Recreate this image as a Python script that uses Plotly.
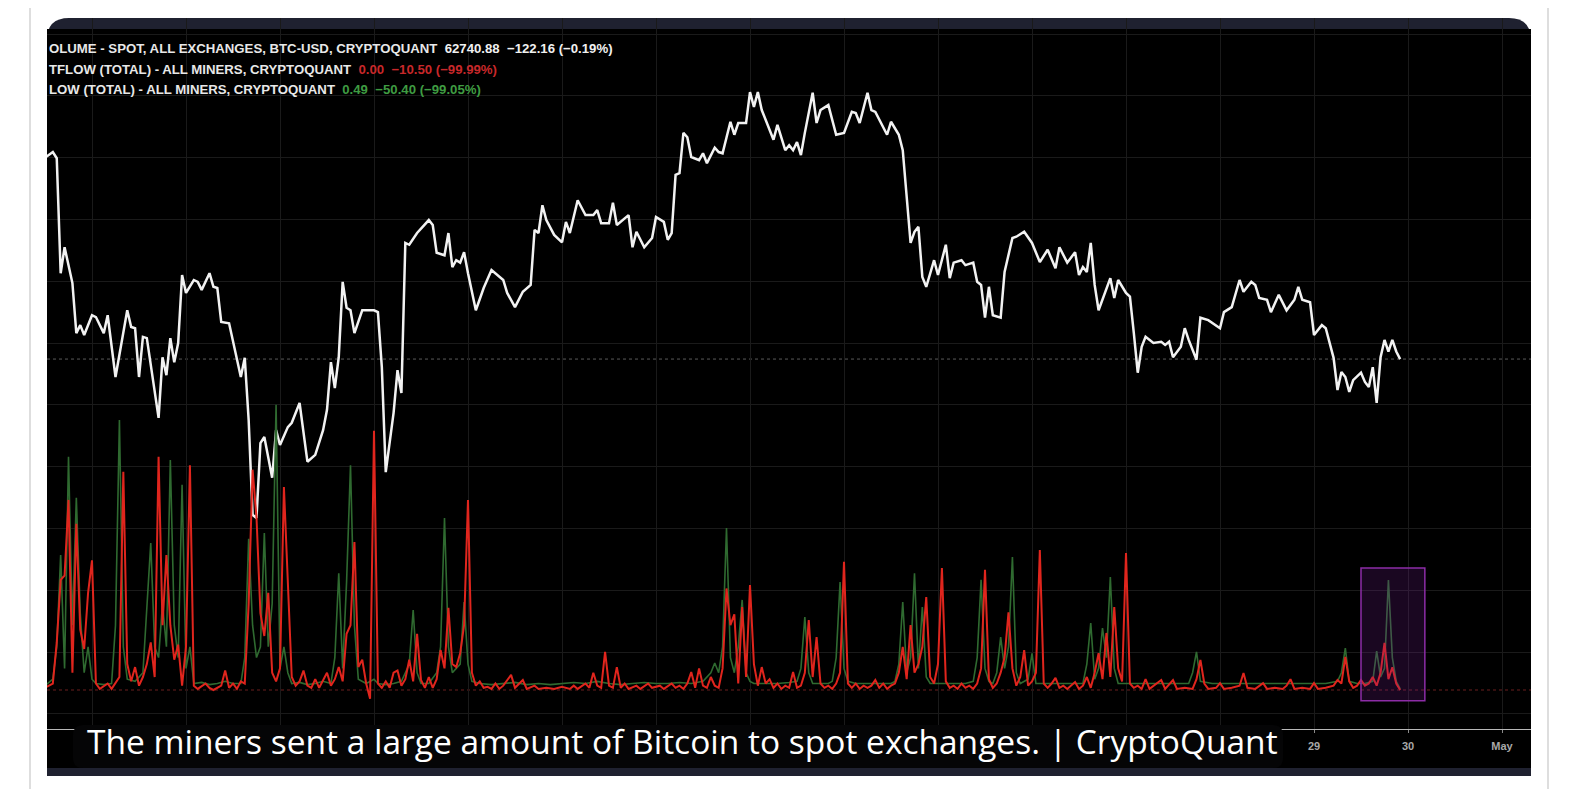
import pandas as pd
import plotly.graph_objects as go

# ---------------- data (hours after 2024-04-16 00:00) ----------------
white_hours = [-12, -10, -9, -8, -7, -6, -5, -4, -3, -2,
               0, 1, 3, 4, 6, 9, 10, 11, 12, 13,
               14, 17, 18, 19, 20, 21, 22, 23, 24, 26,
               27, 28, 30, 31, 32, 33, 35, 38, 39, 40,
               41, 42, 43, 44, 46, 47, 48, 50, 51, 53,
               55, 57, 59, 60, 61, 62, 63, 64, 65, 66,
               67, 69, 72, 73, 74, 75, 76, 77, 78, 79,
               80, 81, 83, 86, 87, 88, 90, 91, 92, 93,
               94, 95, 96, 98, 100, 102, 105, 106, 108, 110,
               112, 113, 114, 115, 116, 118, 120, 121, 122, 124,
               126, 128, 129, 130, 132, 133, 134, 137, 138, 139,
               141, 143, 144, 146, 147, 148, 149, 150, 151, 152,
               153, 155, 156, 157, 159, 160, 161, 163, 164, 165,
               167, 168, 169, 170, 171, 174, 175, 177, 178, 179,
               180, 181, 182, 184, 185, 186, 188, 190, 192, 194,
               195, 196, 198, 199, 200, 203, 204, 206, 207, 208,
               209, 210, 211, 212, 213, 215, 216, 218, 219, 220,
               222, 223, 225, 226, 227, 228, 229, 230, 232, 233,
               235, 236, 238, 240, 242, 244, 246, 247, 249, 251,
               252, 253, 254, 255, 256, 257, 259, 260, 261, 262,
               264, 265, 266, 267, 268, 269, 271, 273, 274, 275,
               276, 278, 279, 280, 282, 283, 285, 288, 289, 291,
               293, 294, 296, 297, 298, 300, 301, 303, 305, 307,
               308, 309, 311, 312, 314, 315, 317, 318, 319, 320,
               321, 322, 324, 325, 326, 327, 328, 329, 330, 331,
               332, 333, 334]
white_prices = [66000, 66090, 65990, 64130, 64550, 64230, 63970, 63160, 63290, 63130,
                63450, 63420, 63160, 63450, 62450, 63530, 63260, 63240, 62450, 63100,
                63080, 61790, 62770, 62480, 63080, 62690, 63000, 64100, 63810, 64020,
                63990, 63860, 64130, 63910, 63890, 63340, 63320, 62450, 62760, 61750,
                60220, 60170, 61380, 61480, 60820, 61590, 61350, 61640, 61710, 62030,
                61080, 61190, 61590, 61920, 62690, 62270, 62770, 63990, 63570, 63530,
                63160, 63530, 63530, 63500, 62610, 60910, 61380, 61870, 62560, 62190,
                64620, 64590, 64780, 64990, 64910, 64460, 64420, 64780, 64230, 64340,
                64300, 64470, 64130, 63530, 63890, 64180, 64020, 63810, 63580, 63830,
                63940, 64830, 64780, 65230, 64990, 64750, 64630, 64960, 64780, 65310,
                65070, 65070, 65150, 64940, 64940, 65270, 64910, 65070, 64550, 64800,
                64550, 64700, 65040, 64960, 64670, 64780, 65720, 65750, 66400, 66330,
                66010, 65960, 66070, 65910, 66160, 66090, 66070, 66580, 66370, 66560,
                66560, 67060, 66820, 67060, 66770, 66290, 66530, 66120, 66200, 66120,
                66250, 66040, 66400, 67050, 66560, 66770, 66850, 66370, 66400, 66740,
                66720, 66560, 67050, 66770, 66740, 66370, 66580, 66370, 66120, 65310,
                64620, 64800, 64880, 64070, 63910, 64340, 64100, 64590, 64050, 64300,
                64340, 64260, 64300, 63990, 63940, 63410, 63910, 63450, 63410, 64150,
                64700, 64720, 64800, 64620, 64310, 64510, 64210, 64550, 64300, 64470,
                64100, 64230, 64150, 64620, 63940, 63530, 63890, 64050, 63730, 64020,
                63810, 63750, 63160, 62520, 62940, 63100, 63000, 63020, 62970, 63020,
                62770, 62940, 63240, 63050, 62730, 63410, 63370, 63240, 63500, 63580,
                64020, 63830, 63990, 63940, 63730, 63700, 63500, 63780, 63530, 63700,
                63910, 63700, 63660, 63130, 63290, 63240, 62760, 62240, 62530, 62450,
                62210, 62400, 62520, 62370, 62290, 62610, 62030, 62770, 63050, 62860,
                63050, 62863.04, 62740.88]

red_hours = [-12, -10, -9, -8, -7, -6, -5, -4, -3, -2,
             -1, 0, 1, 2, 4, 5, 7, 8, 9, 10,
             11, 12, 13, 14, 15, 16, 17, 18, 19, 20,
             21, 22, 23, 24, 25, 26, 27, 29, 30, 31,
             33, 34, 35, 36, 37, 38, 39, 40, 41, 42,
             43, 44, 45, 46, 47, 48, 49, 50, 51, 52,
             53, 54, 55, 56, 57, 58, 60, 61, 62, 63,
             64, 65, 66, 67, 68, 69, 70, 71, 72, 73,
             74, 75, 76, 77, 78, 79, 80, 81, 82, 83,
             84, 85, 86, 87, 88, 89, 90, 91, 92, 93,
             94, 95, 96, 97, 98, 99, 100, 101, 102, 103,
             104, 105, 107, 108, 110, 111, 113, 114, 116, 118,
             120, 122, 123, 124, 126, 127, 128, 129, 130, 131,
             132, 133, 134, 135, 136, 137, 139, 140, 142, 143,
             145, 146, 148, 149, 150, 151, 152, 153, 154, 155,
             156, 157, 158, 159, 160, 161, 162, 163, 164, 165,
             166, 167, 168, 169, 170, 171, 172, 173, 174, 175,
             176, 177, 178, 179, 180, 181, 182, 183, 184, 185,
             186, 187, 188, 189, 190, 191, 192, 193, 194, 195,
             196, 197, 198, 199, 200, 201, 202, 203, 204, 205,
             206, 207, 208, 209, 210, 211, 212, 213, 214, 215,
             216, 217, 218, 219, 220, 221, 222, 223, 224, 225,
             226, 227, 228, 229, 230, 231, 232, 233, 234, 235,
             236, 237, 238, 239, 240, 241, 242, 243, 244, 245,
             246, 247, 248, 249, 251, 252, 253, 254, 255, 256,
             257, 258, 259, 260, 261, 262, 263, 264, 265, 266,
             267, 268, 269, 270, 271, 273, 274, 276, 277, 279,
             281, 282, 283, 284, 285, 287, 288, 289, 291, 293,
             294, 295, 297, 299, 300, 302, 304, 305, 306, 307,
             309, 311, 312, 313, 315, 317, 318, 319, 320, 321,
             322, 323, 324, 325, 326, 327, 328, 329, 330, 331,
             332, 333, 334]
red_values = [1, 3, 22, 51, 53, 88, 8, 77, 28, 19,
              45, 60, 3, 0.5, 3, 0.5, 6, 101, 12, 4,
              10.6, 2, 6, 12, 22, 6, 108, 30, 62.5, 30,
              14, 21, 2, 20, 104, 2, 0.5, 3, 1, 0,
              2, 9, 1, 3, 0.5, 4, 3, 40, 102, 80,
              35.6, 25, 45, 8, 4, 10, 94, 46, 6, 2,
              4, 9, 2, 1, 5, 1, 8, 2, 5, 10.6,
              4, 26, 30, 68.5, 10.6, 14, 3, -4, 120, 3,
              1, 4, 1, 8, 9, 2, 5, 14, 4, 26,
              4.6, 1, 6, 1, 5, 18.5, 10, 38, 12, 10.6,
              17, 30, 88, 8, 2, 4, 1, 1.5, 0.5, 3,
              0.5, 2, 7, 1, 4.6, 0.5, 2, 0.5, 1, 0.5,
              1.5, 0.5, 2, 0.5, 3, 1, 8, 2, 1, 17.6,
              2, 1, 10.6, 1, 3, 0.5, 2, 0.5, 3, 1,
              2, 0.5, 3, 1, 2, 0.5, 3, 8.3, 1, 10,
              2, 1, 6, 2, 1, 10, 47, 30, 35, 3,
              38.4, 6, 48.6, 12, 2, 10.6, 3, 5, 1, 3,
              0.5, 2, 1, 8.3, 1, 2, 8, 32.4, 6, 24.5,
              3, 1, 2, 0.5, 3, 8, 59.3, 3, 1, 3,
              0.5, 2, 1, 2, 4.6, 1, 3, 0.5, 2, 3,
              8, 20, 5, 30, 8, 12, 20, 43, 6, 3,
              12, 56.5, 4, 1, 2, 0.5, 3, 1, 2, 0.5,
              3, 10, 55.6, 5, 1, 3, 8, 15, 36, 10,
              2, 6, 18.5, 2, 4, 8, 64.8, 3, 1, 3,
              5.6, 1, 2, 0.5, 3.7, 0.5, 2, 6, 1, 8,
              17, 5, 26.4, 6, 38.4, 10, 4, 63.4, 3, 1,
              2, 0.5, 5, 0.5, 2, 4.6, 0.5, 4.6, 0.5, 1,
              0.5, 5, 13.9, 3, 0.5, 1, 3.2, 0.5, 1, 2,
              7.9, 1, 0.5, 3.2, 0.5, 1, 0.5, 2, 5, 0.5,
              1, 0.5, 3.2, 0.5, 1, 2, 4.6, 3, 15.3, 4,
              1, 2, 4.6, 2, 3, 6, 2, 8, 21.8, 5,
              10.5, 3, 0.0]

green_hours = [-12, -10, -9, -8, -7, -6, -5, -4, -3, -2,
               -1, 0, 1, 3, 5, 6, 7, 8, 9, 11,
               13, 14, 15, 16, 17, 18, 19, 20, 21, 22,
               23, 24, 25, 26, 28, 30, 32, 34, 36, 38,
               39, 40, 41, 42, 43, 44, 45, 46, 47, 48,
               49, 50, 51, 53, 55, 57, 59, 61, 62, 63,
               64, 65, 66, 67, 68, 70, 72, 73, 75, 77,
               79, 80, 81, 82, 83, 84, 86, 88, 89, 90,
               91, 92, 94, 95, 96, 97, 99, 102, 105, 108,
               111, 114, 117, 120, 123, 126, 129, 132, 135, 138,
               141, 144, 147, 150, 153, 156, 157, 158, 159, 160,
               161, 162, 163, 164, 165, 166, 167, 168, 169, 172,
               175, 178, 180, 181, 182, 183, 184, 186, 188, 189,
               190, 191, 192, 193, 195, 198, 201, 204, 205, 206,
               207, 208, 209, 210, 211, 212, 213, 214, 217, 220,
               223, 225, 226, 227, 228, 229, 230, 231, 232, 233,
               234, 235, 236, 237, 239, 240, 241, 244, 247, 250,
               253, 254, 255, 256, 257, 258, 259, 260, 261, 262,
               265, 268, 271, 274, 277, 280, 281, 282, 283, 286,
               290, 295, 300, 305, 310, 315, 318, 319, 320, 321,
               323, 325, 327, 328, 329, 330, 331, 332, 333, 334]
green_values = [2, 5, 20, 62.5, 10, 108, 30, 89, 35.6, 8,
                20, 5, 3, 2.5, 3, 30, 125, 20, 5, 4,
                8, 40, 68, 20, 15, 40, 20, 106.5, 30, 15,
                95, 10, 20, 3, 3.5, 2.5, 3, 4, 3, 3,
                15, 70, 30, 15, 20, 72.7, 20, 40, 132, 10,
                20, 8, 3, 3.5, 2.5, 3, 4, 3, 15, 54,
                10, 50, 104, 30, 5, 3, 5, 3, 2.5, 3,
                4, 8, 12, 37, 8, 3, 3, 8, 20, 79.6,
                20, 8, 12, 40.7, 12, 4, 3, 2.5, 3, 3.5,
                2.5, 3, 2.5, 3, 3.5, 3, 4, 3, 2.5, 3,
                3.5, 3, 3, 3.5, 3, 4, 6, 8, 12.5, 8,
                20, 75, 15, 8, 20, 41.7, 8, 4, 3, 3,
                3, 3.5, 4, 10, 33.8, 8, 3, 3, 3, 4,
                15, 50, 10, 4, 3, 3, 3, 3, 4, 12,
                40.7, 8, 15, 54, 10, 38.4, 6, 3, 3, 3,
                3, 4, 15, 51, 10, 4, 3, 8, 24.5, 10,
                20, 61.6, 8, 3, 5, 17, 3, 3, 3, 3,
                3, 12, 31, 5, 10, 28.7, 15, 52.3, 10, 3,
                3, 3, 3, 3, 3, 3, 8, 17.6, 4, 3,
                3, 3, 3, 3, 3, 3, 4, 8, 19.4, 4,
                3, 3, 4, 18, 6, 10, 50.89, 15, 4, 0.49]

day_ticks = ["2024-04-16", "2024-04-17", "2024-04-18", "2024-04-19", "2024-04-20",
             "2024-04-21", "2024-04-22", "2024-04-23", "2024-04-24", "2024-04-25",
             "2024-04-26", "2024-04-27", "2024-04-28", "2024-04-29", "2024-04-30",
             "2024-05-01"]
# labels of days 16..28 sit behind the caption banner in the reference
day_labels = ["", "", "", "", "", "", "", "", "", "",
              "", "", "", "29", "30", "May"]
price_grid = [57000, 58000, 59000, 60000, 61000, 62000, 63000,
              64000, 65000, 66000, 67000, 68000]

highlight_hours = [324.0, 340.3]
highlight_flow = [-5.0, 56.5]

legend_lines = [
    ("OLUME - SPOT, ALL EXCHANGES, BTC-USD, CRYPTOQUANT", "62740.88\u00a0\u00a0\u2212122.16 (\u22120.19%)", "#f0f0f0"),
    ("TFLOW (TOTAL) - ALL MINERS, CRYPTOQUANT", "0.00\u00a0\u00a0\u221210.50 (\u221299.99%)", "#c8282a"),
    ("LOW (TOTAL) - ALL MINERS, CRYPTOQUANT", "0.49\u00a0\u00a0\u221250.40 (\u221299.05%)", "#3f9c42"),
]
caption = "The miners sent a large amount of Bitcoin to spot exchanges. | CryptoQuant"

assert len(white_hours) == len(white_prices)
assert len(red_hours) == len(red_values)
assert len(green_hours) == len(green_values)

BASE = pd.Timestamp("2024-04-16 00:00")


def to_time(hours):
    return [BASE + pd.Timedelta(hours=h) for h in hours]


# ---------------- geometry (page pixels; the page body adds an 8px offset) ----------------
W, H = 1592, 789
OFF = 8
PL, PR, PT, PB = 47, 1531, 18, 776          # plot box in page pixels
ML, MT = PL - OFF, PT - OFF
MR, MB = W - (PR - OFF), H - (PB - OFF)
PW, PH = PR - PL, PB - PT
PX_PER_HOUR = 94 / 24.0
X_DAY0 = 92                                  # page x of 2024-04-16 00:00


def px(X):
    return (X - PL) / PW


def py(Y):
    return (PB - Y) / PH


def rounded(x0, y0, x1, y1, rt, rb):
    X0, X1, Yt, Yb = px(x0), px(x1), py(y0), py(y1)
    rxt, ryt, rxb, ryb = rt / PW, rt / PH, rb / PW, rb / PH
    return (f"M {X0},{Yb + ryb} L {X0},{Yt - ryt} Q {X0},{Yt} {X0 + rxt},{Yt} "
            f"L {X1 - rxt},{Yt} Q {X1},{Yt} {X1},{Yt - ryt} "
            f"L {X1},{Yb + ryb} Q {X1},{Yb} {X1 - rxb},{Yb} "
            f"L {X0 + rxb},{Yb} Q {X0},{Yb} {X0},{Yb + ryb} Z")


fig = go.Figure()
fig.add_trace(go.Scatter(x=to_time(green_hours), y=green_values, yaxis="y2", mode="lines",
                         line=dict(color="#2f6a30", width=1.6), hoverinfo="skip", showlegend=False))
fig.add_trace(go.Scatter(x=to_time(red_hours), y=red_values, yaxis="y2", mode="lines",
                         line=dict(color="#e0251d", width=2.0), hoverinfo="skip", showlegend=False))
fig.add_trace(go.Scatter(x=to_time(white_hours), y=white_prices, yaxis="y", mode="lines",
                         line=dict(color="#f2f2f2", width=2.5), hoverinfo="skip", showlegend=False))

x_start = BASE + pd.Timedelta(hours=(PL - X_DAY0) / PX_PER_HOUR)
x_end = BASE + pd.Timedelta(hours=(PR - X_DAY0) / PX_PER_HOUR)
y_dom0 = py(729)

shapes = [
    dict(type="rect", xref="paper", yref="paper", x0=px(30), x1=px(1548), y0=py(820), y1=py(1),
         line=dict(color="#d3d3d3", width=1.5), fillcolor="rgba(0,0,0,0)", layer="below"),
    dict(type="path", xref="paper", yref="paper", path=rounded(47, 18, 1531, 80, 22, 0),
         fillcolor="#1f2130", line=dict(width=0), layer="below"),
    dict(type="rect", xref="paper", yref="paper", x0=px(47), x1=px(1531), y0=py(768), y1=py(29),
         fillcolor="#000000", line=dict(width=0), layer="below"),
    dict(type="rect", xref="paper", yref="paper", x0=px(47), x1=px(1531), y0=py(776), y1=py(768),
         fillcolor="#1f2130", line=dict(width=0), layer="below"),
    dict(type="line", xref="paper", yref="y", x0=0, x1=1, y0=white_prices[-1], y1=white_prices[-1],
         line=dict(color="#5a5a5a", width=1, dash="dot"), layer="below"),
    dict(type="line", xref="paper", yref="y2", x0=0, x1=1, y0=red_values[-1], y1=red_values[-1],
         line=dict(color="#6b1f1f", width=1, dash="dot"), layer="below"),
    dict(type="rect", xref="x", yref="y2",
         x0=BASE + pd.Timedelta(hours=highlight_hours[0]), x1=BASE + pd.Timedelta(hours=highlight_hours[1]),
         y0=highlight_flow[0], y1=highlight_flow[1],
         fillcolor="rgba(120,30,150,0.22)", line=dict(color="#8c2ca6", width=1.5), layer="above"),
    dict(type="path", xref="paper", yref="paper", path=rounded(73, 725, 1283, 768, 10, 10),
         fillcolor="#050506", line=dict(width=0), layer="above"),
]

annotations = []
for i, (label, vals, col) in enumerate(legend_lines):
    annotations.append(dict(
        xref="paper", yref="paper", x=0, y=py([48, 69, 89][i]), xanchor="left", yanchor="middle",
        showarrow=False, align="left",
        text=f"{label}\u00a0\u00a0<span style='color:{col}'>{vals}</span>",
        font=dict(family="Liberation Sans", size=13.2, color="#e8e8e8", weight="bold")))
annotations.append(dict(
    xref="paper", yref="paper", x=px(85), y=py(741), xanchor="left", yanchor="middle",
    showarrow=False, text=caption,
    font=dict(family="Open Sans", size=33.5, color="#ffffff")))

fig.update_layout(
    width=W, height=H,
    margin=dict(l=ML, r=MR, t=MT, b=MB, pad=0),
    paper_bgcolor="#ffffff", plot_bgcolor="rgba(0,0,0,0)",
    showlegend=False,
    xaxis=dict(type="date", range=[x_start, x_end], tickvals=day_ticks, ticktext=day_labels,
               showgrid=True, gridcolor="#1a1a1a", gridwidth=1, zeroline=False,
               showline=True, linecolor="#b8b8b8", linewidth=1,
               ticks="outside", ticklen=3, tickcolor="#8a8a8a", ticklabelstandoff=4,
               tickfont=dict(family="Liberation Sans", size=11, color="#a8a8a8", weight="bold"),
               fixedrange=True),
    yaxis=dict(domain=[y_dom0, 1], range=[56755, 68259], tickvals=price_grid,
               showticklabels=False, showgrid=True, gridcolor="#1a1a1a", zeroline=False,
               ticks="", fixedrange=True),
    yaxis2=dict(domain=[y_dom0, 1], overlaying="y", range=[-18.06, 311.1], visible=False,
                showgrid=False, zeroline=False, fixedrange=True),
    shapes=shapes, annotations=annotations,
)

fig.write_html("out.html")
